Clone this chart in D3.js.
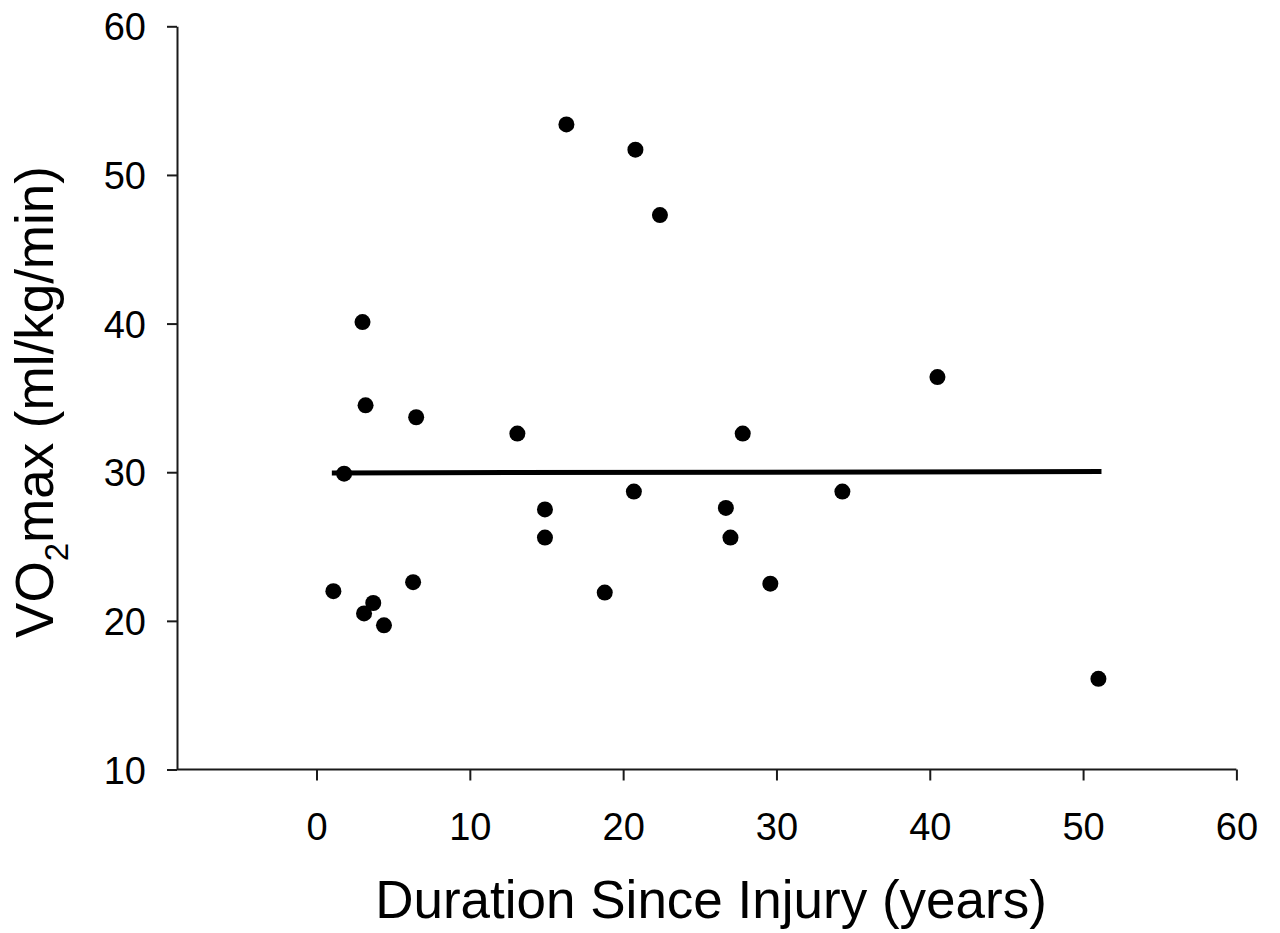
<!DOCTYPE html>
<html>
<head>
<meta charset="utf-8">
<script src="https://cdn.jsdelivr.net/npm/d3@7"></script>
<style>
	body { margin: 0; background: #fff; }
	svg { display: block; font-family: Arial, 'Liberation Sans', sans-serif; }
	.axis path, .axis line { stroke: #1a1a1a; stroke-width: 2; }
</style>
</head>
<body>
<div id="chart"></div>
<script>
// values
const durationYears = [1.1, 1.8, 3.0, 3.1, 3.2, 3.7, 4.4, 6.3, 6.5, 13.1, 14.9, 14.9, 16.3, 18.8, 20.7, 20.8, 22.4, 26.7, 27.0, 27.8, 29.6, 34.3, 40.5, 51.0]
const vo2max = [22.0, 29.9, 40.1, 20.5, 34.5, 21.2, 19.7, 22.6, 33.7, 32.6, 27.5, 25.6, 53.4, 21.9, 28.7, 51.7, 47.3, 27.6, 25.6, 32.6, 22.5, 28.7, 36.4, 16.1]
// regression line ends
const fitX = [1.0, 51.2]
const fitY = [29.95, 30.05]
const xTicks = [0, 10, 20, 30, 40, 50, 60]
const yTicks = [10, 20, 30, 40, 50, 60]

const width = 1280
const height = 933

const x = d3.scaleLinear().domain([-9.1, 60]).range([177, 1236.4])
const y = d3.scaleLinear().domain([10, 60]).range([769.5, 26.3])

const svg = d3.select('#chart')
	.append('svg')
	.attr('width', width)
	.attr('height', height)

// x axis
const gx = svg.append('g')
	.attr('class', 'axis')
	.attr('transform', `translate(0,${y(10)})`)
	.call(d3.axisBottom(x).tickValues(xTicks).tickSize(11).tickSizeOuter(0))
gx.selectAll('text')
	.attr('y', 70)
	.attr('dy', 0)
	.attr('fill', '#000')
	.style('font-size', '38px')
gx.select('.domain').attr('d', `M${x(-9.1)},0H${x(60)}`)

// y axis
const gy = svg.append('g')
	.attr('class', 'axis')
	.attr('transform', `translate(${x(-9.1)},0)`)
	.call(d3.axisLeft(y).tickValues(yTicks).tickSize(10).tickPadding(21).tickSizeOuter(0))
gy.selectAll('text')
	.attr('dy', '0.36em')
	.attr('fill', '#000')
	.style('font-size', '38px')

// axis titles
svg.append('text')
	.attr('x', 711)
	.attr('y', 918)
	.attr('text-anchor', 'middle')
	.style('font-size', '53px')
	.text('Duration Since Injury (years)')

const yLabel = svg.append('text')
	.attr('transform', 'translate(53,402) rotate(-90)')
	.attr('text-anchor', 'middle')
	.style('font-size', '53px')
yLabel.append('tspan').text('VO')
yLabel.append('tspan').attr('dy', 15).style('font-size', '33px').text('2')
yLabel.append('tspan').attr('dy', -15).text('max (ml/kg/min)')

// regression line
svg.append('path')
	.datum(fitX.map((d, i) => [d, fitY[i]]))
	.attr('fill', 'none')
	.attr('stroke', '#000')
	.attr('stroke-width', 5)
	.attr('d', d3.line().x(d => x(d[0])).y(d => y(d[1])))

// points
svg.selectAll('circle.pt')
	.data(durationYears.map((d, i) => [d, vo2max[i]]))
	.enter()
	.append('circle')
	.attr('class', 'pt')
	.attr('cx', d => x(d[0]))
	.attr('cy', d => y(d[1]))
	.attr('r', 8)
	.attr('fill', '#000')
</script>
</body>
</html>
